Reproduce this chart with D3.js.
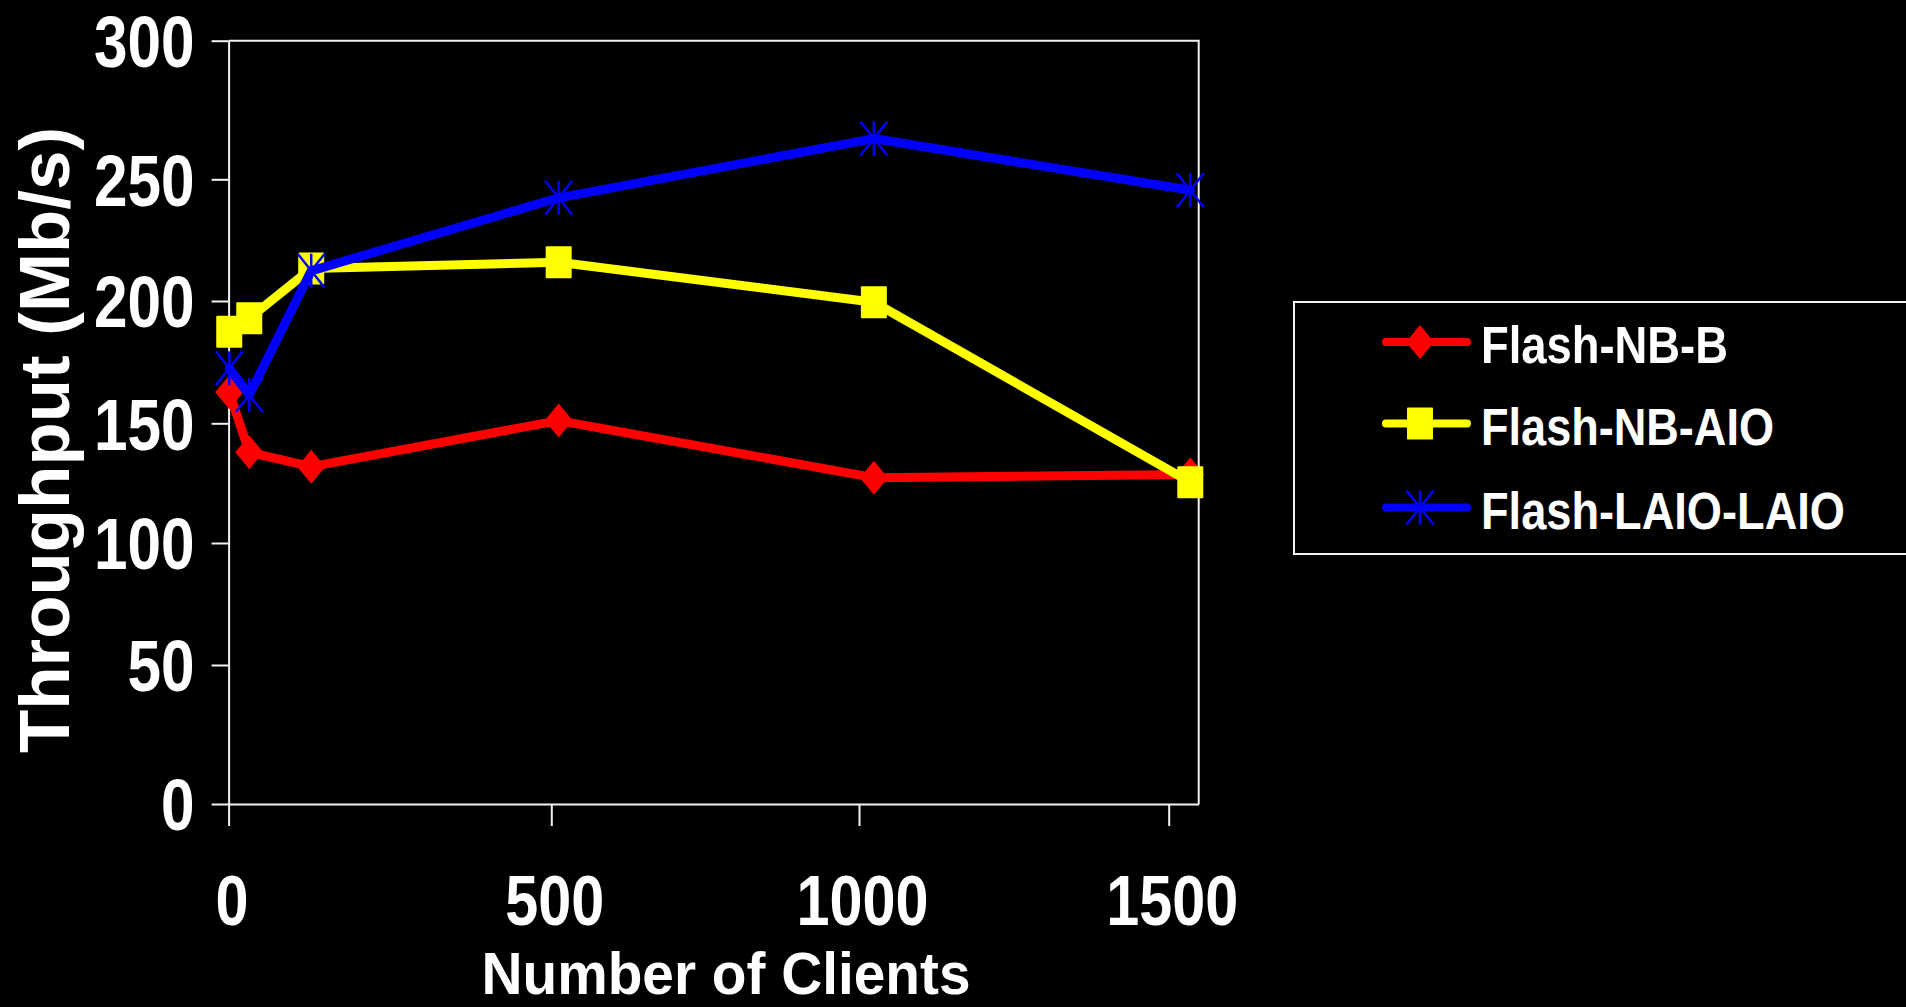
<!DOCTYPE html>
<html>
<head>
<meta charset="utf-8">
<script src="https://cdn.jsdelivr.net/npm/d3@7/dist/d3.min.js"></script>
<style>
  html, body { margin: 0; padding: 0; background: #000; }
  svg { display: block; }
  text { font-family: "Liberation Sans", Arial, sans-serif; font-weight: bold; fill: #fff; }
</style>
</head>
<body>
<svg id="chart" width="1906" height="1007"></svg>
<script>
// Number of concurrent clients (x) and throughput in Mb/s for each server variant
const clients = [1, 32, 128, 512, 1024, 1536];
const flashNbB = [162.7, 137.9, 131.9, 151.1, 127.3, 128.6];
const flashNbAio = [187.4, 192.9, 213.4, 215.9, 199.5, 125.4];
const flashLaioLaio = [172.5, 161.6, 212.4, 242.4, 264.7, 245.5];

const seriesNames = ["Flash-NB-B", "Flash-NB-AIO", "Flash-LAIO-LAIO"];
const xTickValues = [0, 500, 1000, 1500];
const yTickValues = [0, 50, 100, 150, 200, 250, 300];
const xTitle = "Number of Clients";
const yTitle = "Throughput (Mb/s)";

const svg = d3.select("#chart");

// Axis scales (piecewise so every tick lands on its gridline position)
const x = d3.scaleLinear()
  .domain([0, 500, 1000, 1500, 1550])
  .range([228.6, 551.3, 859, 1168.7, 1198.7]);
const y = d3.scaleLinear()
  .domain([0, 50, 100, 150, 200, 250, 300])
  .range([804, 665, 543, 423.3, 301, 179.3, 40.7]);

const xMax = x.domain()[x.domain().length - 1];
const yMax = 300;
const fmt = d3.format("d");

// Plot frame: top and right borders
svg.append("path")
  .attr("d", `M${x(0)},${y(yMax)}H${x(xMax)}V${y(0)}`)
  .attr("fill", "none")
  .attr("stroke", "#f2f2f2")
  .attr("stroke-width", 2);

// Y axis
const yAxis = svg.append("g")
  .attr("transform", `translate(${x(0)},0)`)
  .call(d3.axisLeft(y).tickValues(yTickValues).tickFormat(fmt)
    .tickSize(17).tickSizeOuter(0).tickPadding(17));
yAxis.select(".domain").attr("stroke", "#f2f2f2").attr("stroke-width", 2);
yAxis.selectAll(".tick line").attr("stroke", "#f2f2f2").attr("stroke-width", 2);
yAxis.selectAll(".tick text")
  .attr("fill", "#fff")
  .style("font-size", "72px")
  .attr("dy", "0.36em")
  .attr("textLength", d => fmt(d).length * 33.5)
  .attr("lengthAdjust", "spacingAndGlyphs");

// X axis
const xAxis = svg.append("g")
  .attr("transform", `translate(0,${y(0)})`)
  .call(d3.axisBottom(x).tickValues(xTickValues).tickFormat(fmt)
    .tickSize(22).tickSizeOuter(0));
xAxis.select(".domain").attr("stroke", "#f2f2f2").attr("stroke-width", 2);
xAxis.selectAll(".tick line").attr("stroke", "#f2f2f2").attr("stroke-width", 2);
xAxis.selectAll(".tick text")
  .attr("fill", "#fff")
  .style("font-size", "70px")
  .attr("y", 121)
  .attr("dy", 0)
  .attr("dx", 3)
  .attr("textLength", d => fmt(d).length * 33)
  .attr("lengthAdjust", "spacingAndGlyphs");

// Axis titles
svg.append("text")
  .attr("x", 726)
  .attr("y", 994)
  .attr("text-anchor", "middle")
  .style("font-size", "60px")
  .attr("textLength", 489)
  .attr("lengthAdjust", "spacingAndGlyphs")
  .text(xTitle);

svg.append("text")
  .attr("transform", "translate(69,440) rotate(-90)")
  .attr("text-anchor", "middle")
  .style("font-size", "71px")
  .attr("textLength", 626)
  .attr("lengthAdjust", "spacingAndGlyphs")
  .text(yTitle);

// Marker shapes
const markerW = 28, markerH = 34;
function drawMarker(sel, kind, color) {
  if (kind === "diamond") {
    sel.append("path")
      .attr("d", `M0,${-markerH / 2}L${markerW / 2},0L0,${markerH / 2}L${-markerW / 2},0Z`)
      .attr("fill", color);
  } else if (kind === "square") {
    sel.append("rect")
      .attr("x", -13).attr("y", -16)
      .attr("width", 26).attr("height", 32)
      .attr("rx", 1)
      .attr("fill", color);
  } else {
    const w = 27, h = 34;
    sel.append("path")
      .attr("d", `M0,${-h / 2}V${h / 2}M${-w / 2},${-h / 2}L${w / 2},${h / 2}M${w / 2},${-h / 2}L${-w / 2},${h / 2}`)
      .attr("fill", "none")
      .attr("stroke", color)
      .attr("stroke-width", 2.5);
  }
}

const series = [
  { name: seriesNames[0], values: flashNbB, color: "#ff0000", marker: "diamond" },
  { name: seriesNames[1], values: flashNbAio, color: "#ffff00", marker: "square" },
  { name: seriesNames[2], values: flashLaioLaio, color: "#0000ff", marker: "asterisk" }
];

const line = d3.line()
  .x(d => x(d[0]))
  .y(d => y(d[1]));

series.forEach(s => {
  const pts = clients.map((c, i) => [c, s.values[i]]);
  const g = svg.append("g");
  g.append("path")
    .datum(pts)
    .attr("d", line)
    .attr("fill", "none")
    .attr("stroke", s.color)
    .attr("stroke-width", 9)
    .attr("stroke-linejoin", "round")
    .attr("stroke-linecap", "round");
  g.selectAll("g.pt")
    .data(pts)
    .join("g")
    .attr("class", "pt")
    .attr("transform", d => `translate(${x(d[0])},${y(d[1])})`)
    .each(function () { drawMarker(d3.select(this), s.marker, s.color); });
});

// Legend
const legend = svg.append("g");
legend.append("rect")
  .attr("x", 1294).attr("y", 302)
  .attr("width", 640).attr("height", 252)
  .attr("fill", "none")
  .attr("stroke", "#f2f2f2")
  .attr("stroke-width", 2);

const legendRowY = [342, 423.5, 507.5];
const legendTextLen = [247, 293, 364];
series.forEach((s, i) => {
  const row = legend.append("g").attr("transform", `translate(0,${legendRowY[i]})`);
  row.append("line")
    .attr("x1", 1386).attr("x2", 1467)
    .attr("stroke", s.color)
    .attr("stroke-width", 8)
    .attr("stroke-linecap", "round");
  const m = row.append("g").attr("transform", "translate(1420,0)");
  drawMarker(m, s.marker, s.color);
  row.append("text")
    .attr("x", 1481)
    .attr("y", 21)
    .style("font-size", "51px")
    .attr("textLength", legendTextLen[i])
    .attr("lengthAdjust", "spacingAndGlyphs")
    .text(s.name);
});
</script>
</body>
</html>
